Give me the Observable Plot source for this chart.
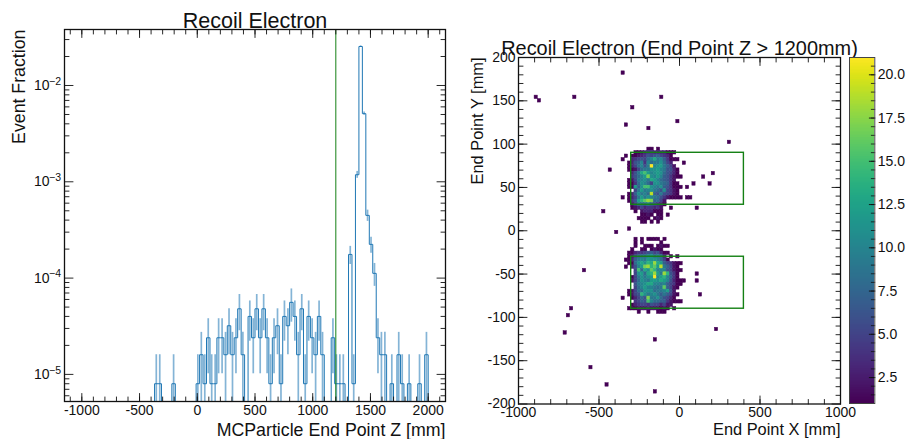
<!DOCTYPE html>
<html>
<head>
<meta charset="utf-8">
<style>
html,body{margin:0;padding:0;background:#fff;}
#chart{position:relative;width:906px;height:439px;overflow:hidden;}
#chart svg{position:absolute;top:0;overflow:visible;}
</style>
<script src="https://cdn.jsdelivr.net/npm/d3@7"></script>
<script src="https://cdn.jsdelivr.net/npm/@observablehq/plot@0.6"></script>
</head>
<body>
<div id="chart"></div>
<script>
const FONT = '"Liberation Sans", Arial, sans-serif';

// ---- Left histogram ----
const histFirstEdge = -370, histBinWidth = 30, eventUnit = 8e-6;
const histCounts = [1,1,0,0,0,1,0,0,0,0,0,0,1,2,1,3,1,1,3,3,2,4,2,3,6,2,0,5,3,6,3,6,3,1,3,4,1,5,4,7,5,2,6,1,5,3,2,5,2,0,0,3,1,1,1,0,22,1,148,3175,638,56,28,14,3,2,2,0,1,0,2,1,0,1,0,0,1,0,2];
const histXTicks = [-1000,-500,0,500,1000,1500,2000];
const histXMinor = d3.range(-1100,2101,100);
const histYTicks = [1e-2,1e-3,1e-4,1e-5];
const histYBase = ["10","10","10","10"];
const histYExponents = ["−2","−3","−4","−5"];
const histYMinor = [3e-2,2e-2,9e-3,8e-3,7e-3,6e-3,5e-3,4e-3,3e-3,2e-3,9e-4,8e-4,7e-4,6e-4,5e-4,4e-4,3e-4,2e-4,9e-5,8e-5,7e-5,6e-5,5e-5,4e-5,3e-5,2e-5,9e-6,8e-6,7e-6,6e-6];
const zCut = [1200];

// ---- Right 2D histogram ----
const cellW = 20, cellH = 4, firstCol = -360;
const rowsUpperY = [92,88,84,80,76,72,68,64,60,56,52,48,44,40,36,32,28,24,20,16,12,8,0];
const rowsUpper = [
[0,0,0,0,0,0,0,0,1,1,0,1,0,0,0,0,0,0,0],
[0,0,0,0,1,1,2,3,4,4,3,3,3,3,1,1,1,0,0],
[0,1,0,1,1,2,3,4,6,5,6,7,5,4,3,1,0,0,0],
[1,0,0,3,4,5,6,5,8,10,13,9,10,7,4,1,1,1,0],
[0,0,1,3,6,7,10,4,10,8,9,9,11,8,5,3,0,0,0],
[0,0,1,3,5,8,10,6,9,21,10,11,12,9,7,5,2,0,0],
[0,0,1,1,2,5,8,9,9,11,11,12,10,9,6,6,3,1,0],
[0,0,0,3,6,9,13,15,12,10,11,12,11,8,6,5,3,1,0],
[0,0,0,4,6,8,10,12,17,11,10,12,10,7,6,4,2,1,1],
[0,0,1,2,5,9,10,11,9,13,12,10,8,7,6,4,2,0,0],
[0,0,1,1,4,8,11,10,8,5,11,11,9,8,7,4,1,1,0],
[0,0,1,1,12,7,11,15,15,11,10,9,11,7,6,4,1,1,1],
[0,0,0,0,5,9,12,9,10,11,9,8,6,11,5,4,2,1,0],
[0,0,1,3,7,11,9,10,8,19,7,6,9,6,5,4,2,1,0],
[1,0,1,3,5,9,12,9,11,10,9,8,6,4,2,1,1,1,1],
[0,0,1,4,6,12,14,16,18,17,7,8,5,2,0,0,0,0,0],
[0,0,0,2,5,9,8,8,10,7,6,4,3,1,0,0,0,0,0],
[0,0,0,1,2,3,5,3,4,4,3,4,2,0,0,1,0,0,0],
[0,0,0,0,1,0,2,3,3,3,1,1,1,0,0,0,0,0,0],
[0,0,0,0,0,0,1,1,2,1,0,1,1,0,1,0,0,0,0],
[0,0,0,0,0,1,1,1,1,0,1,2,1,0,0,0,0,0,0],
[0,0,0,0,0,0,1,1,0,1,0,1,0,0,0,0,0,0,0],
[0,0,1,0,0,0,0,0,0,0,0,0,0,0,0,0,0,0,0]
];
const rowsLowerY = [-12,-16,-20,-24,-28,-32,-36,-40,-44,-48,-52,-56,-60,-64,-68,-72,-76,-80,-84,-88,-92,-96];
const rowsLower = [
[0,0,0,0,1,0,1,0,1,1,1,1,0,1,0,0,0,0,0],
[0,0,0,0,1,0,1,0,0,0,0,0,1,0,0,0,0,0,0],
[0,0,0,0,1,0,0,1,1,1,0,1,2,1,1,0,0,0,0],
[0,0,0,1,0,0,1,1,0,1,2,1,1,0,0,0,0,0,0],
[0,0,1,1,3,4,4,5,6,7,5,6,3,1,1,0,0,0,0],
[0,0,1,2,5,7,8,8,10,11,8,9,8,3,0,1,0,1,0],
[0,1,1,3,7,9,10,9,12,11,11,10,8,5,1,0,0,0,0],
[0,0,1,1,8,11,13,11,14,13,18,13,12,7,5,4,2,1,1],
[0,1,0,3,6,10,12,17,18,14,16,12,19,9,7,5,2,1,0],
[0,0,0,0,5,15,8,13,11,16,14,10,10,10,6,5,2,1,1],
[0,0,0,0,5,11,12,8,13,14,18,12,9,18,14,6,4,1,0],
[0,0,0,1,5,9,11,9,11,12,21,10,12,14,10,7,4,1,0],
[0,0,0,2,5,8,11,10,9,12,12,11,13,12,10,6,3,1,1],
[0,0,0,0,6,9,10,11,13,13,10,10,9,10,7,5,4,1,1],
[0,0,0,0,5,8,10,12,10,10,9,8,9,16,7,5,2,1,0],
[0,0,1,2,5,8,8,11,11,11,8,9,9,10,12,6,2,0,0],
[0,0,1,2,5,6,14,11,9,10,11,9,7,9,7,5,2,1,0],
[1,0,0,1,3,5,8,6,17,9,9,11,8,6,5,3,1,0,0],
[0,0,0,0,4,5,7,6,15,10,8,8,7,7,4,2,1,1,1],
[0,0,0,1,3,4,5,5,4,6,5,5,3,5,2,2,0,0,0],
[0,0,1,1,1,2,2,2,3,2,2,2,1,2,1,0,1,0,0],
[0,0,0,0,0,1,0,0,1,0,0,1,1,1,0,0,0,0,0]
];
const strayX = [-900,-880,-660,-360,-300,-340,-120,-200,-20,300,20,-440,200,140,80,180,40,40,60,100,-480,-400,-600,100,20,100,120,-680,-700,-720,-560,-460,-160,-160,220];
const strayY = [152,148,152,180,140,120,152,116,124,100,76,68,64,60,52,52,48,36,36,24,20,-4,-48,-52,-60,-60,-76,-92,-100,-120,-160,-180,-128,-188,-116];
const boxX = [-300,400];
const boxUpperY = [30,90];
const boxLowerY = [-90,-30];
const mapXTicks = [-1000,-500,0,500,1000];
const mapXMinor = d3.range(-900,1000,100);
const mapYTicks = [-200,-150,-100,-50,0,50,100,150,200];
const mapYMinor = d3.range(-190,200,10);
const barTicks = [2.5,5,7.5,10,12.5,15,17.5,20];
const barMinor = d3.range(1.5,21,0.5);
const colorDomain = [1,21];

// ---- Derived tables ----
const hist = histCounts.map((n,i)=>({x1:histFirstEdge+i*histBinWidth, n, f:n*eventUnit, e:Math.sqrt(n)*eventUnit}));
const floorY = 1e-7;
const stepPts = hist.map(d=>({x:d.x1, y:d.n>0?d.f:floorY}));
stepPts.unshift({x:histFirstEdge,y:floorY});
stepPts.push({x:histFirstEdge+hist.length*histBinWidth,y:floorY});
const cells = [];
function addRows(ys,rows){rows.forEach((r,j)=>r.forEach((v,i)=>{if(v>0)cells.push({x:firstCol+i*cellW,y:ys[j],v});}));}
addRows(rowsUpperY,rowsUpper);
addRows(rowsLowerY,rowsLower);
strayX.forEach((x,i)=>cells.push({x,y:strayY[i],v:1}));

// ---- Helpers ----
const tickShape = {draw(c,l){c.moveTo(0,0);c.lineTo(0,-l);}};
function xTicks(vals,len,w){return [
  Plot.vector(vals,{x:d=>d,frameAnchor:"bottom",rotate:0,length:len,anchor:"start",shape:tickShape,stroke:"#111",strokeWidth:w}),
  Plot.vector(vals,{x:d=>d,frameAnchor:"top",rotate:180,length:len,anchor:"start",shape:tickShape,stroke:"#111",strokeWidth:w})];}
function yTicks(vals,len,w){return [
  Plot.vector(vals,{y:d=>d,frameAnchor:"left",rotate:90,length:len,anchor:"start",shape:tickShape,stroke:"#111",strokeWidth:w}),
  Plot.vector(vals,{y:d=>d,frameAnchor:"right",rotate:270,length:len,anchor:"start",shape:tickShape,stroke:"#111",strokeWidth:w})];}
const style = {background:"transparent",fontFamily:FONT,color:"#111"};
const TICK_FS = 14;
const GREEN = "#148014", BLUE = "#1f77b4";

// ---- Left panel ----
const left = Plot.plot({
  width:453,height:439,marginLeft:64,marginRight:8,marginTop:29,marginBottom:38,style,
  x:{domain:[-1150,2150]},
  y:{type:"log",domain:[10**-5.2815,10**-1.4185]},
  marks:[
    Plot.ruleX(hist.filter(d=>d.n>0),{x:d=>d.x1+histBinWidth/2,y1:d=>Math.max(d.f-d.e,floorY),y2:d=>d.f+d.e,stroke:BLUE,strokeOpacity:0.55,strokeWidth:1.7,clip:true}),
    Plot.line(stepPts,{x:"x",y:"y",curve:"step-after",stroke:BLUE,strokeWidth:1,clip:true}),
    Plot.ruleX(zCut,{stroke:GREEN,strokeWidth:1}),
    ...xTicks(histXMinor,4.5,0.9),...xTicks(histXTicks,8,0.9),
    ...yTicks(histYMinor,4.5,0.9),...yTicks(histYTicks,8.5,0.9),
    Plot.axisX({ticks:histXTicks,tickFormat:d=>String(d),tickSize:0,tickPadding:4,label:null,fontSize:TICK_FS}),
    Plot.axisY({ticks:histYTicks,tickFormat:d=>histYBase[histYTicks.indexOf(d)],tickSize:0,tickPadding:15,label:null,fontSize:TICK_FS}),
    Plot.text(histYTicks,{y:d=>d,text:d=>histYExponents[histYTicks.indexOf(d)],frameAnchor:"left",textAnchor:"end",dx:-3.5,dy:-4,fontSize:10.5}),
    Plot.frame({stroke:"#111",strokeWidth:1.3}),
    Plot.text(["MCParticle End Point Z [mm]"],{frameAnchor:"bottom-right",textAnchor:"end",lineAnchor:"bottom",dy:34,fontSize:17.75}),
    Plot.text(["Event Fraction"],{frameAnchor:"top-left",rotate:-90,textAnchor:"end",lineAnchor:"middle",dx:-45,fontSize:17.75}),
    Plot.text(["Recoil Electron"],{frameAnchor:"top",lineAnchor:"bottom",dy:-2,fontSize:21.5})
  ]
});
left.style.left="0px";

// ---- Right panel ----
const right = Plot.plot({
  width:390,height:439,marginLeft:68,marginRight:0,marginTop:57,marginBottom:35.5,style,
  x:{domain:[-1000,1000]},
  y:{domain:[-200,200]},
  color:{type:"linear",scheme:"viridis",domain:colorDomain},
  marks:[
    Plot.rect(cells,{x1:"x",x2:d=>d.x+cellW,y1:"y",y2:d=>d.y+cellH,fill:"v",stroke:"v",strokeWidth:0.5}),
    Plot.rect([0],{x1:boxX[0],x2:boxX[1],y1:boxUpperY[0],y2:boxUpperY[1],fill:"none",stroke:GREEN,strokeWidth:1.4}),
    Plot.rect([0],{x1:boxX[0],x2:boxX[1],y1:boxLowerY[0],y2:boxLowerY[1],fill:"none",stroke:GREEN,strokeWidth:1.4}),
    ...xTicks(mapXMinor,4.5,0.9),...xTicks(mapXTicks,8,0.9),
    ...yTicks(mapYMinor,4.5,0.9),...yTicks(mapYTicks,8.5,0.9),
    Plot.axisX({ticks:mapXTicks,tickFormat:d=>String(d),tickSize:0,tickPadding:3,label:null,fontSize:TICK_FS}),
    Plot.axisY({ticks:mapYTicks,tickFormat:d=>String(d),tickSize:0,tickPadding:3,label:null,fontSize:TICK_FS}),
    Plot.frame({stroke:"#111",strokeWidth:1.3}),
    Plot.text(["End Point X [mm]"],{frameAnchor:"bottom-right",textAnchor:"end",lineAnchor:"bottom",dy:31,fontSize:16.4}),
    Plot.text(["End Point Y [mm]"],{frameAnchor:"top-left",rotate:-90,textAnchor:"end",lineAnchor:"middle",dx:-41,fontSize:16.4}),
    Plot.text(["Recoil Electron (End Point Z > 1200mm)"],{frameAnchor:"top",lineAnchor:"bottom",dy:-3,fontSize:19.9})
  ]
});
right.style.left="450px";

// ---- Colour bar ----
const barLevels = d3.range(colorDomain[0],colorDomain[1],0.05);
const bar = Plot.plot({
  width:66,height:439,marginLeft:9,marginRight:31.7,marginTop:57,marginBottom:36,style,
  x:{axis:null},
  y:{domain:colorDomain},
  color:{type:"linear",scheme:"viridis",domain:colorDomain},
  marks:[
    Plot.rect(barLevels,{y1:d=>d,y2:d=>Math.min(d+0.1,colorDomain[1]),fill:d=>d,shapeRendering:"crispEdges"}),
    Plot.vector(barMinor,{y:d=>d,frameAnchor:"right",rotate:270,length:3.5,anchor:"start",shape:tickShape,stroke:"#111",strokeWidth:0.8}),
    Plot.vector(barTicks,{y:d=>d,frameAnchor:"right",rotate:270,length:5.5,anchor:"start",shape:tickShape,stroke:"#111",strokeWidth:0.9}),
    Plot.axisY({anchor:"right",ticks:barTicks,tickFormat:d=>d.toFixed(1),tickSize:0,tickPadding:3,label:null,fontSize:TICK_FS}),
    Plot.frame({stroke:"#444",strokeWidth:1})
  ]
});
bar.style.left="840px";

document.getElementById("chart").append(left,right,bar);
</script>
</body>
</html>
